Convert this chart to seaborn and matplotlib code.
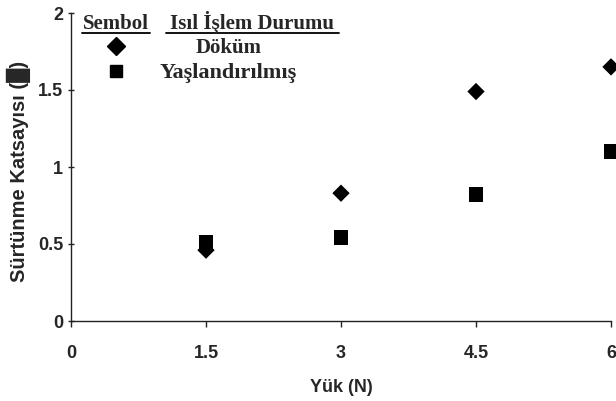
import matplotlib
matplotlib.use("Agg")
import matplotlib.pyplot as plt
from matplotlib.lines import Line2D
from matplotlib.font_manager import FontProperties
import seaborn as sns
import pandas as pd

# Data
loads = [1.5, 3, 4.5, 6]
dokum = [0.46, 0.83, 1.49, 1.65]
yaslandirilmis = [0.51, 0.54, 0.82, 1.10]
series_names = ["Döküm", "Yaşlandırılmış"]
x_ticks = [0, 1.5, 3, 4.5, 6]
x_ticklabels = ["0", "1.5", "3", "4.5", "6"]
y_ticks = [0, 0.5, 1, 1.5, 2]
y_ticklabels = ["0", "0.5", "1", "1.5", "2"]

df = pd.DataFrame({
    "Yük": loads * 2,
    "mu": dokum + yaslandirilmis,
    "Durum": [series_names[0]] * len(loads) + [series_names[1]] * len(loads),
})

sns.set_theme(style="ticks")
sans = ["Liberation Sans", "DejaVu Sans"]
serif = ["Liberation Serif", "DejaVu Serif"]
plt.rcParams["font.family"] = sans
plt.rcParams["axes.labelweight"] = "bold"

fig = plt.figure(figsize=(6.16, 4.01), dpi=100)
ax = fig.add_axes([71 / 616, 80 / 401, 540 / 616, 308 / 401])

sns.scatterplot(
    data=df, x="Yük", y="mu", style="Durum", hue="Durum",
    markers={series_names[0]: "D", series_names[1]: "s"},
    palette={series_names[0]: "black", series_names[1]: "black"},
    s=115, edgecolor="none", linewidth=0, legend=False, ax=ax, clip_on=False, zorder=3,
)
# diamonds a bit smaller than squares
ax.collections[0].set_sizes([78 if d == series_names[0] else 115 for d in df["Durum"]])

ax.set_xlim(0, 6)
ax.set_ylim(0, 2)
ax.set_xticks(x_ticks)
ax.set_xticklabels(x_ticklabels)
ax.set_yticks(y_ticks)
ax.set_yticklabels(y_ticklabels)
for sp in ["top", "right"]:
    ax.spines[sp].set_visible(False)
for sp in ["left", "bottom"]:
    ax.spines[sp].set_color("#222222")
    ax.spines[sp].set_linewidth(1.0)
ax.tick_params(axis="x", direction="out", length=4.5, width=1, color="#222222", pad=13,
               labelsize=13)
ax.tick_params(axis="y", direction="inout", length=4, width=1, color="#222222", pad=3.5,
               labelsize=13)
for t in ax.get_xticklabels() + ax.get_yticklabels():
    t.set_fontweight("bold")

xl_fp = FontProperties(family=sans, weight="bold", size=13)
yl_fp = FontProperties(family=sans, weight="bold", size=14.5)
ax.set_xlabel("Yük (N)", fontproperties=xl_fp, labelpad=12)
ax.set_ylabel("Sürtünme Katsayısı (█)", fontproperties=yl_fp)
ax.yaxis.label.set_fontweight("bold")
ax.yaxis.set_label_coords(-0.074, 0.484)

# Legend-like table
W, H = 616, 401
def fx(px):
    return px / W
def fy(py):
    return 1 - py / H

fig.text(fx(116), fy(29), "Sembol", family=serif, fontsize=15, fontweight="bold",
         ha="center", va="baseline")
fig.text(fx(252), fy(29), "Isıl İşlem Durumu", family=serif, fontsize=15, fontweight="bold",
         ha="center", va="baseline")
fig.add_artist(Line2D([fx(82), fx(150)], [fy(33), fy(33)], color="black", lw=1.3))
fig.add_artist(Line2D([fx(166), fx(339)], [fy(33), fy(33)], color="black", lw=1.3))
fig.text(fx(229), fy(53), series_names[0], family=serif, fontsize=15, fontweight="bold",
         ha="center", va="baseline")
fig.text(fx(228), fy(78), series_names[1], family=serif, fontsize=16, fontweight="bold",
         ha="center", va="baseline")

handles = [
    Line2D([], [], marker="D", color="black", linestyle="none", markersize=8.8),
    Line2D([], [], marker="s", color="black", linestyle="none", markersize=8),
]
leg = fig.legend(handles=handles, labels=["", ""], loc="center",
                 bbox_to_anchor=(fx(116), fy(59.5)), frameon=False,
                 handlelength=1.0, handletextpad=0, borderpad=0, borderaxespad=0,
                 labelspacing=0.6, fontsize=12, columnspacing=0)

fig.savefig("out.png", dpi=100)
